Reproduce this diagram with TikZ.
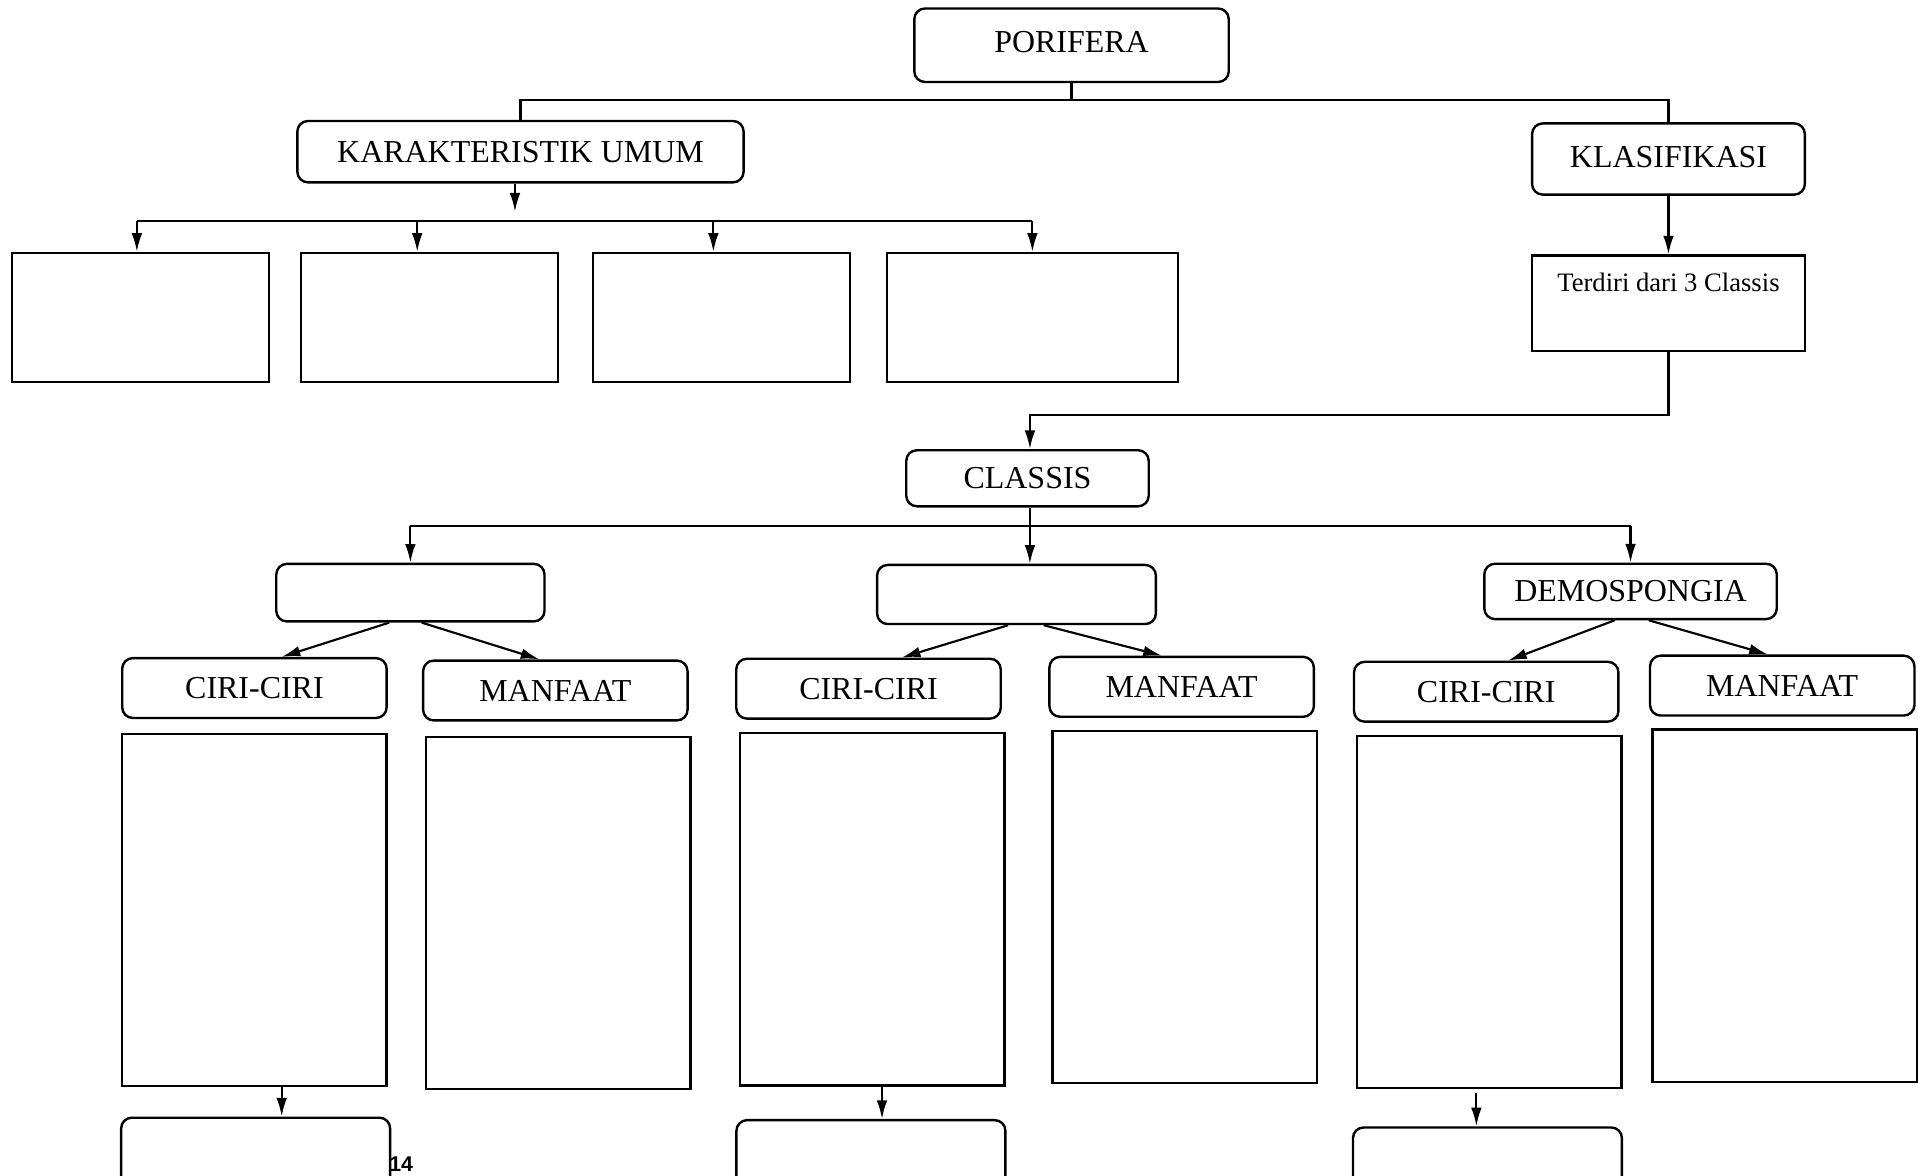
\documentclass[tikz,border=0pt]{standalone}
\usepackage{fontspec}
\setmainfont{Liberation Serif}
\newfontfamily\angkafont{Liberation Sans}
\usetikzlibrary{arrows.meta}

\begin{document}
\begin{tikzpicture}[
    x=0.01615cm, y=-0.01615cm,
    box/.style={rectangle, draw, rounded corners=4pt, line width=0.9pt, font=\large, inner sep=0pt},
    kotak/.style={rectangle, draw, line width=0.9pt, inner sep=0pt},
    sub/.style={box, minimum width=3.49cm, minimum height=0.79cm},
    isi/.style={kotak, minimum width=3.49cm, minimum height=4.65cm},
    bawah/.style={box, minimum width=3.55cm, minimum height=1.3cm},
    arrow/.style={-{Latex[length=7pt,width=4pt]}, line width=0.8pt},
    garis/.style={line width=0.8pt}
]
\clip (0,0) rectangle (1568,961);
\fill[white] (0,0) rectangle (1568,961);

% Root and first level
\node[box, minimum width=4.15cm, minimum height=0.97cm] (porifera) at (876,37) {\raisebox{0.08cm}{PORIFERA}};
\node[box, minimum width=5.89cm, minimum height=0.81cm] (karakteristik) at (425.5,124) {KARAKTERISTIK UMUM};
\node[box, minimum width=3.60cm, minimum height=0.94cm] (klasifikasi) at (1364,130) {\raisebox{0.05cm}{KLASIFIKASI}};

% Karakteristik umum (empty boxes)
\node[kotak, minimum width=3.39cm, minimum height=1.70cm] (umum1) at (115,259.5) {};
\node[kotak, minimum width=3.39cm, minimum height=1.70cm] (umum2) at (351,259.5) {};
\node[kotak, minimum width=3.39cm, minimum height=1.70cm] (umum3) at (590,259.5) {};
\node[kotak, minimum width=3.84cm, minimum height=1.70cm] (umum4) at (844,259.5) {};

% Klasifikasi
\node[kotak, minimum width=3.60cm, minimum height=1.26cm,
      label={[anchor=north, yshift=-0.12cm]north:Terdiri dari 3 Classis}] (terdiri) at (1364,248) {};
\node[box, minimum width=3.20cm, minimum height=0.74cm] (classis) at (840,391) {\raisebox{-0.04cm}{CLASSIS}};

% Classes
\node[box, minimum width=3.54cm, minimum height=0.76cm] (kelas1) at (335.5,484.5) {};
\node[box, minimum width=3.68cm, minimum height=0.78cm] (kelas2) at (831,486) {};
\node[box, minimum width=3.86cm, minimum height=0.73cm] (demospongia) at (1333,483.5) {\raisebox{-0.06cm}{DEMOSPONGIA}};

% Ciri-ciri and manfaat
\node[sub] (ciri1) at (208,562.5) {CIRI-CIRI};
\node[sub] (manfaat1) at (454,564.5) {MANFAAT};
\node[sub] (ciri2) at (710,563) {CIRI-CIRI};
\node[sub] (manfaat2) at (966,561.5) {MANFAAT};
\node[sub] (ciri3) at (1215,565.5) {CIRI-CIRI};
\node[sub] (manfaat3) at (1457,560.5) {MANFAAT};

\node[isi] (isi1) at (208,744) {};
\node[isi] (isi2) at (456.5,746.5) {};
\node[isi] (isi3) at (713,743.5) {};
\node[isi] (isi4) at (968.5,741.5) {};
\node[isi] (isi5) at (1217.5,745.5) {};
\node[isi] (isi6) at (1459,740.5) {};

\node[bawah] (bawah1) at (209,954) {};
\node[bawah] (bawah2) at (712,956) {};
\node[bawah] (bawah3) at (1216,962) {};

\node[font=\angkafont\bfseries\footnotesize] (halaman) at (328,952) {14};

% Connectors
\coordinate (atas) at (876,82);
\coordinate (ujung) at (421,173);
\coordinate (cabang) at (0,181);
\coordinate (belok) at (842,339);
\coordinate (cabang2) at (0,430);

\draw[garis] (porifera.south) -- (atas);
\draw[garis] (karakteristik.north) |- (atas) -| (klasifikasi.north);
\draw[arrow] (karakteristik.south -| ujung) -- (ujung);
\draw[garis] ([xshift=-0.05cm]umum1.north |- cabang) -- (umum4.north |- cabang);
\draw[arrow] ([xshift=-0.05cm]umum1.north |- cabang) -- ([xshift=-0.05cm]umum1.north);
\draw[arrow] ([xshift=-0.16cm]umum2.north |- cabang) -- ([xshift=-0.16cm]umum2.north);
\draw[arrow] ([xshift=-0.11cm]umum3.north |- cabang) -- ([xshift=-0.11cm]umum3.north);
\draw[arrow] (umum4.north |- cabang) -- (umum4.north);

\draw[arrow] (klasifikasi.south) -- (terdiri.north);
\draw[arrow] (terdiri.south) |- (belok) -- (belok |- classis.north);

\draw[garis] (classis.south -| belok) -- (belok |- cabang2);
\draw[garis] (kelas1.north |- cabang2) -- (demospongia.north |- cabang2);
\draw[arrow] (kelas1.north |- cabang2) -- (kelas1.north);
\draw[arrow] (belok |- cabang2) -- (belok |- kelas2.north);
\draw[arrow] (demospongia.north |- cabang2) -- (demospongia.north);

\draw[arrow] ([xshift=-0.28cm]kelas1.south) -- ([xshift=0.36cm]ciri1.north);
\draw[arrow] ([xshift=0.15cm]kelas1.south) -- ([xshift=-0.21cm]manfaat1.north);
\draw[arrow] ([xshift=-0.11cm]kelas2.south) -- ([xshift=0.44cm]ciri2.north);
\draw[arrow] ([xshift=0.36cm]kelas2.south) -- ([xshift=-0.26cm]manfaat2.north);
\draw[arrow] ([xshift=-0.21cm]demospongia.south) -- ([xshift=0.29cm]ciri3.north);
\draw[arrow] ([xshift=0.24cm]demospongia.south) -- ([xshift=-0.19cm]manfaat3.north);

\draw[arrow] ([xshift=0.36cm]isi1.south) -- ([xshift=0.36cm]isi1.south |- bawah1.north);
\draw[arrow] ([xshift=0.13cm]isi3.south) -- ([xshift=0.13cm]isi3.south |- bawah2.north);
\draw[arrow] ([xshift=-0.17cm,yshift=-0.05cm]isi5.south) -- ([xshift=-0.17cm]isi5.south |- bawah3.north);

\end{tikzpicture}
\end{document}
